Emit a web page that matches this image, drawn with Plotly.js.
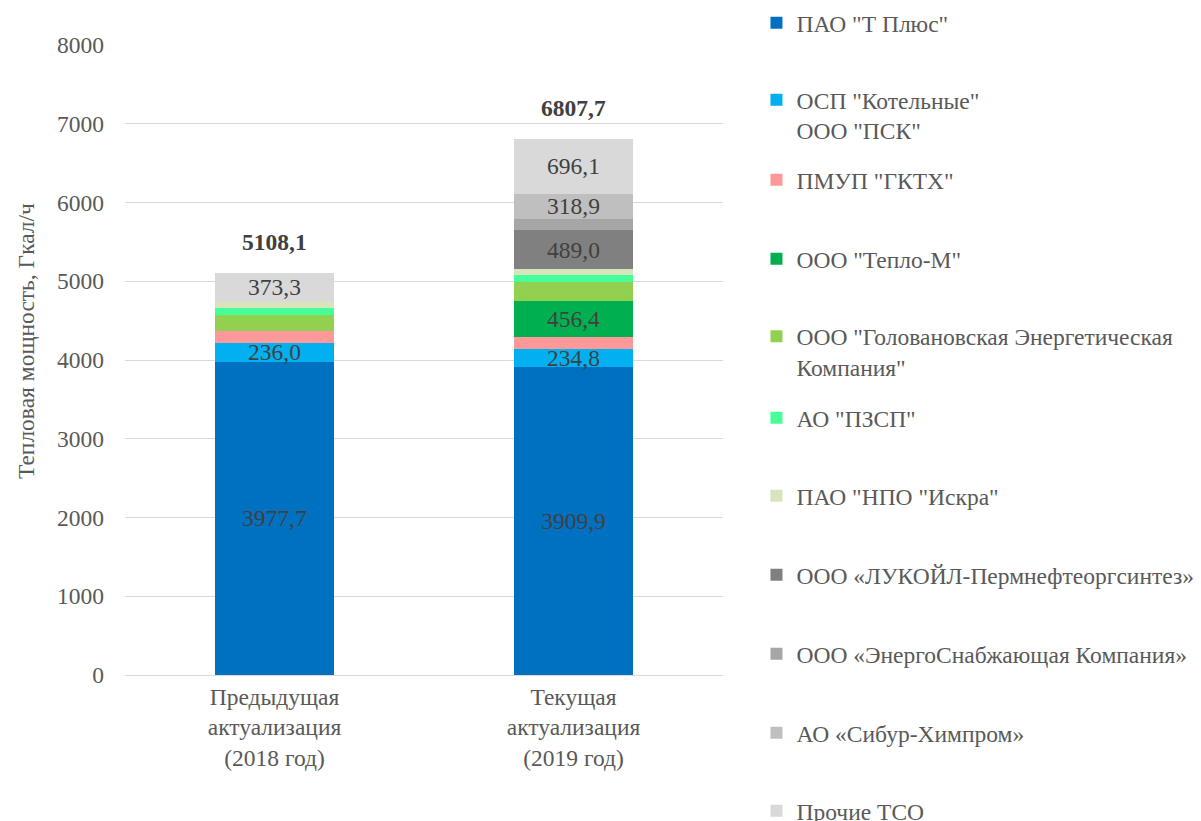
<!DOCTYPE html>
<html>
<head>
<meta charset="utf-8">
<script src="https://cdn.plot.ly/plotly-3.0.1.min.js"></script>
<style>html,body{margin:0;padding:0;background:#fff;}#chart{width:1201px;height:821px;}</style>
</head>
<body>
<div id="chart"></div>
<script>
const categories = ['Предыдущая<br>актуализация<br>(2018 год)', 'Текущая<br>актуализация<br>(2019 год)'];

const seriesNames = [
  'ПАО "Т Плюс"',
  'ОСП "Котельные"<br>ООО "ПСК"',
  'ПМУП "ГКТХ"',
  'ООО "Тепло-М"',
  'ООО "Головановская Энергетическая<br>Компания"',
  'АО "ПЗСП"',
  'ПАО "НПО "Искра"',
  'ООО «ЛУКОЙЛ-Пермнефтеоргсинтез»',
  'ООО «ЭнергоСнабжающая Компания»',
  'АО «Сибур-Химпром»',
  'Прочие ТСО'
];

const tPlus          = [3977.7, 3909.9];
const kotelnye       = [236.0, 234.8];
const gktx           = [152, 150];
const teploM         = [0, 456.4];
const golovanovskaya = [200, 240];
const pzsp           = [93, 88];
const iskra          = [76, 77];
const lukoil         = [0, 489.0];
const energo         = [0, 147.6];
const sibur          = [0, 318.9];
const prochie        = [373.3, 696.1];
const totals         = [5108.1, 6807.7];
const yTitle         = 'Тепловая мощность, Гкал/ч';

const seriesValues = [tPlus, kotelnye, gktx, teploM, golovanovskaya, pzsp, iskra, lukoil, energo, sibur, prochie];
const showLabels   = [true, true, false, true, false, false, false, true, false, true, true];
const colors = ['#0070C0', '#00B0F0', '#FF9999', '#00B050', '#92D050', '#47FF98', '#D8E4BC', '#808080', '#A6A6A6', '#BFBFBF', '#D9D9D9'];

const FONT = 'Liberation Serif, Times New Roman, serif';
const FS = 23.5;
const fmt = v => v.toFixed(1).replace('.', ',');

// plot area geometry (pixels)
const L = 125, R = 477.5, T = 45, B = 146;
const PW = 1201 - L - R, PH = 821 - T - B;
const px2x = px => (px - L) / PW;
const py2y = py => (821 - B - py) / PH;

// legend entry centers (pixel y) and positions
const legendCenters = [23, 115.5, 180, 259, 352, 418, 496, 575, 654, 733, 811];
const legendLeft = 757;

const traces = seriesValues.map((vals, i) => ({
  type: 'bar',
  name: seriesNames[i],
  x: categories,
  y: vals,
  marker: {color: colors[i], line: {width: 0}},
  text: showLabels[i] ? vals.map(v => v > 0 ? fmt(v) : '') : vals.map(() => ''),
  textposition: showLabels[i] ? 'inside' : 'none',
  insidetextanchor: 'middle',
  textfont: {family: FONT, size: FS, color: '#404040'},
  hoverinfo: 'name+y',
  showlegend: true,
  legend: 'legend' + (i + 2)
}));

const layout = {
  width: 1201,
  height: 821,
  margin: {l: L, r: R, t: T, b: B, autoexpand: false},
  paper_bgcolor: '#ffffff',
  plot_bgcolor: '#ffffff',
  barmode: 'stack',
  bargap: 0.6,
  showlegend: true,
  font: {family: FONT, color: '#595959', size: FS},
  uniformtext: {mode: 'show', minsize: FS},
  xaxis: {
    type: 'category',
    range: [-0.5, 1.5],
    showgrid: false,
    showline: false,
    zeroline: false,
    ticks: '',
    ticklabelstandoff: 5,
    tickfont: {family: FONT, size: FS, color: '#595959'},
    automargin: false
  },
  yaxis: {
    range: [0, 8000],
    dtick: 1000,
    showgrid: true,
    gridcolor: '#D9D9D9',
    gridwidth: 1,
    zeroline: true,
    zerolinecolor: '#D9D9D9',
    zerolinewidth: 1,
    showline: false,
    ticks: '',
    ticklabelstandoff: 20,
    tickformat: 'd',
    tickfont: {family: FONT, size: FS, color: '#595959'},
    automargin: false
  },
  annotations: categories.map((c, i) => ({
    x: c,
    y: totals[i],
    xref: 'x',
    yref: 'y',
    text: '<b>' + fmt(totals[i]) + '</b>',
    showarrow: false,
    yanchor: 'middle',
    yshift: 31,
    font: {family: FONT, size: FS, color: '#404040'}
  })).concat([{
    text: yTitle,
    xref: 'paper',
    yref: 'paper',
    x: px2x(25.5),
    y: py2y(341.5),
    xanchor: 'center',
    yanchor: 'middle',
    textangle: -90,
    showarrow: false,
    font: {family: FONT, size: FS, color: '#595959'}
  }])
};

seriesNames.forEach((n, i) => {
  layout['legend' + (i + 2)] = {
    x: px2x(legendLeft),
    xanchor: 'left',
    y: py2y(legendCenters[i]),
    yanchor: 'middle',
    valign: 'top',
    bgcolor: 'rgba(0,0,0,0)',
    borderwidth: 0,
    font: {family: FONT, size: FS, color: '#595959'},
    itemclick: false,
    itemdoubleclick: false
  };
});

Plotly.newPlot('chart', traces, layout, {displayModeBar: false, staticPlot: true});
</script>
</body>
</html>
